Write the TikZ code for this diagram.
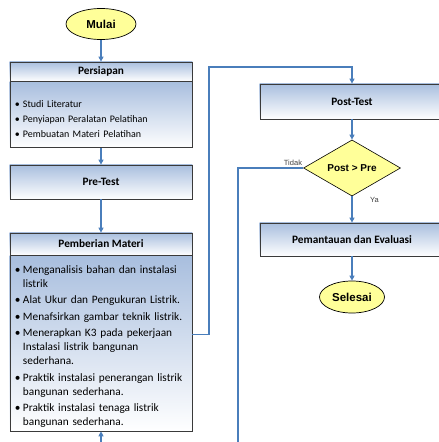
\documentclass[tikz,border=0pt]{standalone}
\usepackage{fontspec}
\setmainfont{Carlito}
\newfontfamily\arialfont{Liberation Sans}
\usetikzlibrary{arrows.meta, positioning, shapes.geometric, backgrounds}
\definecolor{flowblue}{HTML}{4A7EBB}
\definecolor{boxblue}{RGB}{168,190,222}
\definecolor{termyellow}{HTML}{FFFF99}
\definecolor{boxedge}{HTML}{3A3A3A}
\newcommand{\bitem}[1]{\par\hangindent=8pt\hangafter=1\noindent\makebox[8pt][l]{\textbullet}#1\par}
\newcommand{\bgap}{\vspace{2.5pt}}
\newcommand{\nl}{\hfil\break}
\tikzset{
  termnode/.style = {ellipse, draw=black, line width=0.7pt, fill=termyellow, inner sep=0pt,
    font=\arialfont\bfseries\fontsize{11.5}{13}\selectfont},
  cekbox/.style = {diamond, draw=black, line width=0.6pt, fill=termyellow, inner sep=0pt,
    minimum width=97pt, minimum height=44pt, font=\arialfont\bfseries\fontsize{10}{12}\selectfont},
  headbox/.style = {draw=boxedge, line width=0.8pt,
    minimum width=182pt, font=\bfseries\fontsize{11.3}{13}\selectfont},
  bodybox/.style = {headbox, text width=172pt, inner xsep=5pt, align=left, font=\fontsize{11.3}{14}\selectfont},
  lbl/.style = {font=\arialfont\fontsize{7.5}{9}\selectfont, text=black!75, inner sep=1pt},
  flowline/.style = {draw=flowblue, line width=1.1pt, -{Triangle[width=5pt,length=5pt]}},
}
\begin{document}
\begin{tikzpicture}[x=1pt, y=-1pt]
\useasboundingbox (0,0) rectangle (439,442);
% kolom kiri
\node [termnode, minimum width=70pt, minimum height=31pt] (mulai) at (101,24) {Mulai};
\node [headbox, minimum height=19pt] (persHead) at (101,71.5) {Persiapan};
\node [bodybox, below=0pt of persHead, minimum height=66pt, font=\fontsize{10}{15}\selectfont] (persBody)
  {\bitem{Studi Literatur}\bitem{Penyiapan Peralatan Pelatihan}\bitem{Pembuatan Materi Pelatihan}};
\node [headbox, minimum height=34pt] (pretest) at (101,182) {Pre-Test};
\node [headbox, minimum height=22pt] (materiHead) at (101,244) {Pemberian Materi};
\node [bodybox, below=0pt of materiHead, minimum height=172pt] (materiBody)
  {\bitem{Menganalisis bahan dan instalasi\nl listrik}\bgap
   \bitem{Alat Ukur dan Pengukuran Listrik.}\bgap
   \bitem{Menafsirkan gambar teknik listrik.}\bgap
   \bitem{Menerapkan K3 pada pekerjaan\nl Instalasi listrik bangunan\nl sederhana.}\bgap
   \bitem{Praktik instalasi penerangan listrik\nl bangunan sederhana.}\bgap
   \bitem{Praktik instalasi tenaga listrik\nl bangunan sederhana.}};

% kolom kanan
\node [headbox, minimum width=184pt, minimum height=35pt] (posttest) at (352,101.5) {Post-Test};
\node [cekbox] (cek) at (352,168) {Post > Pre};
\node [headbox, minimum width=184pt, minimum height=33pt] (monev) at (352,239.5) {Pemantauan dan Evaluasi};
\node [termnode, minimum width=65pt, minimum height=32pt] (selesai) at (352,297) {Selesai};

% gradasi di belakang kotak
\begin{scope}[on background layer]
\foreach \kotak in {persHead, persBody, pretest, materiHead, materiBody, posttest, monev}
  \shade [top color=boxblue, bottom color=white] (\kotak.north west) rectangle (\kotak.south east);
\end{scope}

\coordinate (naik) at (209,67);
\coordinate (balik) at (238,452);

\draw [flowline] (mulai) -- (persHead);
\draw [flowline] (persBody) -- (pretest);
\draw [flowline] (pretest) -- (materiHead);
\draw [flowline] ([yshift=9pt]materiBody.east) -| (naik) -| (posttest.north);
\draw [flowline] (posttest) -- (cek);
\draw [flowline] (cek) -- (monev);
\draw [flowline] (monev) -- (selesai);
\draw [flowline] (cek.west) -| (balik) -| (materiBody.south);

\node [lbl, above left, yshift=1pt] at (cek.west) {Tidak};
\node [lbl, below right, xshift=17pt] at (cek.south) {Ya};
\end{tikzpicture}
\end{document}
